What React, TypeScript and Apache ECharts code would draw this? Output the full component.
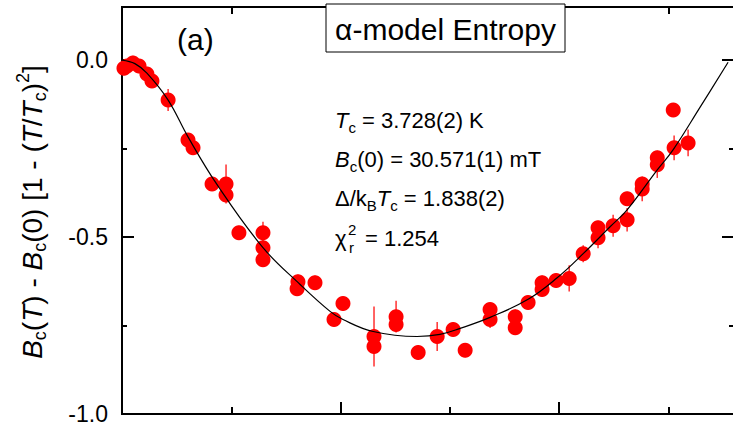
import React, { useEffect, useRef } from "react";
import * as echarts from "echarts";

// Measured points: temperature (K) and deviation function
const tempK = [1.009, 1.023, 1.05, 1.078, 1.114, 1.137, 1.211, 1.302, 1.325, 1.412, 1.476, 1.476, 1.535, 1.645, 1.645, 1.645, 1.805, 1.801, 1.883, 1.97, 2.011, 2.153, 2.153, 2.254, 2.254, 2.355, 2.442, 2.515, 2.57, 2.684, 2.684, 2.799, 2.799, 2.858, 2.922, 2.922, 2.986, 3.046, 3.11, 3.178, 3.178, 3.247, 3.311, 3.311, 3.38, 3.38, 3.449, 3.449, 3.522, 3.526, 3.59];
const deviation = [-0.023, -0.017, -0.008, -0.017, -0.039, -0.059, -0.113, -0.226, -0.248, -0.35, -0.35, -0.381, -0.488, -0.488, -0.53, -0.564, -0.626, -0.646, -0.629, -0.733, -0.688, -0.781, -0.809, -0.725, -0.747, -0.826, -0.781, -0.761, -0.82, -0.705, -0.733, -0.725, -0.756, -0.685, -0.629, -0.648, -0.623, -0.617, -0.547, -0.474, -0.502, -0.468, -0.451, -0.392, -0.35, -0.364, -0.276, -0.296, -0.141, -0.248, -0.234];
const errorBar = [0.02, 0.02, 0.02, 0.02, 0.02, 0.02, 0.031, 0.02, 0.02, 0.02, 0.055, 0.02, 0.02, 0.031, 0.02, 0.02, 0.02, 0.02, 0.02, 0.02, 0.02, 0.085, 0.02, 0.045, 0.02, 0.02, 0.041, 0.02, 0.02, 0.02, 0.024, 0.02, 0.02, 0.02, 0.02, 0.02, 0.02, 0.037, 0.024, 0.02, 0.03, 0.031, 0.033, 0.02, 0.02, 0.035, 0.02, 0.037, 0.02, 0.035, 0.038];

// alpha-model fit curve
const fitT = [1.0, 1.059, 1.114, 1.211, 1.302, 1.435, 1.645, 1.815, 1.952, 2.011, 2.149, 2.35, 2.455, 2.547, 2.684, 2.858, 2.991, 3.11, 3.233, 3.311, 3.449, 3.522, 3.645, 3.773];
const fitD = [0, -0.01, -0.037, -0.113, -0.217, -0.352, -0.53, -0.634, -0.71, -0.733, -0.767, -0.781, -0.775, -0.758, -0.727, -0.676, -0.615, -0.547, -0.471, -0.423, -0.31, -0.253, -0.133, -0.006];

const FONT = "'Liberation Sans', Arial, Helvetica, sans-serif";

function rs(size: number, italic: boolean, padTop: number, lh: number) {
  return {
    fontSize: size,
    fontFamily: FONT,
    fontStyle: italic ? "italic" : "normal",
    fill: "#000",
    verticalAlign: "top",
    lineHeight: lh,
    padding: [padTop, 0, 0, 0],
  };
}

export default function App() {
  const ref = useRef<HTMLDivElement>(null);
  useEffect(() => {
    document.body.style.margin = "0";
    const chart = echarts.init(ref.current!, null, { renderer: "svg" });

    const axisLine = { show: true, onZero: false, lineStyle: { color: "#000", width: 2 } };
    const xAx = (pos: string, interval: number, len: number) => ({
      type: "value",
      position: pos,
      min: 1,
      max: 3.8,
      interval,
      axisLine,
      axisTick: { show: true, inside: true, length: len, lineStyle: { color: "#000", width: 2 } },
      axisLabel: { show: false },
      splitLine: { show: false },
    });
    const yAx = (pos: string, interval: number, len: number, labels: boolean) => ({
      type: "value",
      position: pos,
      min: -1,
      max: 0.15,
      interval,
      axisLine,
      axisTick: { show: true, inside: true, length: len, lineStyle: { color: "#000", width: 2 } },
      axisLabel: labels
        ? {
            show: true,
            formatter: (v: number) => v.toFixed(1),
            margin: 14,
            fontSize: 23,
            fontFamily: FONT,
            color: "#000",
            showMaxLabel: false,
            showMinLabel: true,
          }
        : { show: false },
      splitLine: { show: false },
    });

    const annRich = { m: rs(22, false, 6, 26), i: rs(22, true, 6, 26), s: rs(15, false, 17, 15) };

    const yRich = {
      m: rs(28, false, 8, 34),
      i: rs(28, true, 8, 34),
      s: rs(18, false, 21, 18),
      p: rs(18, false, 4, 18),
    };

    const annText = (y: number, text: string) => ({
      type: "text",
      x: 335,
      y,
      z: 100,
      style: { text, rich: annRich, textAlign: "left", textVerticalAlign: "top", fill: "#000", fontFamily: FONT, fontSize: 22 },
    });
    const plain = (x: number, y: number, text: string, size: number, align = "left") => ({
      type: "text",
      x,
      y,
      z: 100,
      style: { text, fontSize: size, fontFamily: FONT, fill: "#000", textAlign: align, textVerticalAlign: "middle" },
    });

    const option: any = {
      animation: false,
      backgroundColor: "#fff",
      grid: { left: 122, top: 7, width: 612, height: 407, outerBoundsMode: "none" },
      xAxis: [xAx("bottom", 1, 12), xAx("bottom", 0.5, 7), xAx("top", 1, 12), xAx("top", 0.5, 7)],
      yAxis: [yAx("left", 0.5, 12, true), yAx("left", 0.25, 5, false), yAx("right", 0.5, 12, false), yAx("right", 0.25, 5, false)],
      series: [
        {
          type: "custom",
          z: 1,
          data: tempK.map((t, i) => [t, deviation[i], errorBar[i]]),
          renderItem: (params: any, api: any) => {
            const x = api.value(0);
            const y = api.value(1);
            const e = api.value(2);
            const p1 = api.coord([x, y - e]);
            const p2 = api.coord([x, y + e]);
            return {
              type: "line",
              shape: { x1: p1[0], y1: p1[1], x2: p2[0], y2: p2[1] },
              style: { stroke: "#ff3030", lineWidth: 1.5 },
            };
          },
        },
        {
          type: "scatter",
          z: 2,
          symbol: "circle",
          symbolSize: 15,
          itemStyle: { color: "#ff0000", opacity: 1 },
          data: tempK.map((t, i) => [t, deviation[i]]),
        },
        {
          type: "line",
          z: 3,
          showSymbol: false,
          symbol: "none",
          smooth: 0.4,
          lineStyle: { color: "#000", width: 1.2 },
          data: fitT.map((t, i) => [t, fitD[i]]),
        },
      ],
      graphic: [
        {
          type: "rect",
          z: 100,
          shape: { x: 326, y: 4, width: 239, height: 48 },
          style: { fill: "#fff", stroke: "#000", lineWidth: 1 },
        },
        plain(445.5, 29, "α-model Entropy", 30, "center"),
        plain(177, 39, "(a)", 30, "left"),
        annText(103, "{i|T}{s|c}{m| = 3.728(2) K}"),
        annText(142, "{i|B}{s|c}{m|(0) = 30.571(1) mT}"),
        annText(181, "{m|Δ/k}{s|B}{i|T}{s|c}{m| = 1.838(2)}"),
        plain(335, 238, "χ", 22, "left"),
        plain(348, 229, "2", 15, "left"),
        plain(349, 247, "r", 15, "left"),
        plain(365, 238, "= 1.254", 22, "left"),
        {
          type: "text",
          x: 10,
          y: 212,
          rotation: Math.PI / 2,
          z: 100,
          style: {
            text: "{i|B}{s|c}{m|(}{i|T}{m|) - }{i|B}{s|c}{m|(0) [1 - (}{i|T}{m|/}{i|T}{s|c}{m|)}{p|2}{m|]}",
            rich: yRich,
            textAlign: "center",
            textVerticalAlign: "top",
            fill: "#000",
            fontFamily: FONT,
            fontSize: 28,
          },
        },
      ],
    };
    chart.setOption(option);
    return () => chart.dispose();
  }, []);
  return <div ref={ref} style={{ width: 733, height: 426 }} />;
}
